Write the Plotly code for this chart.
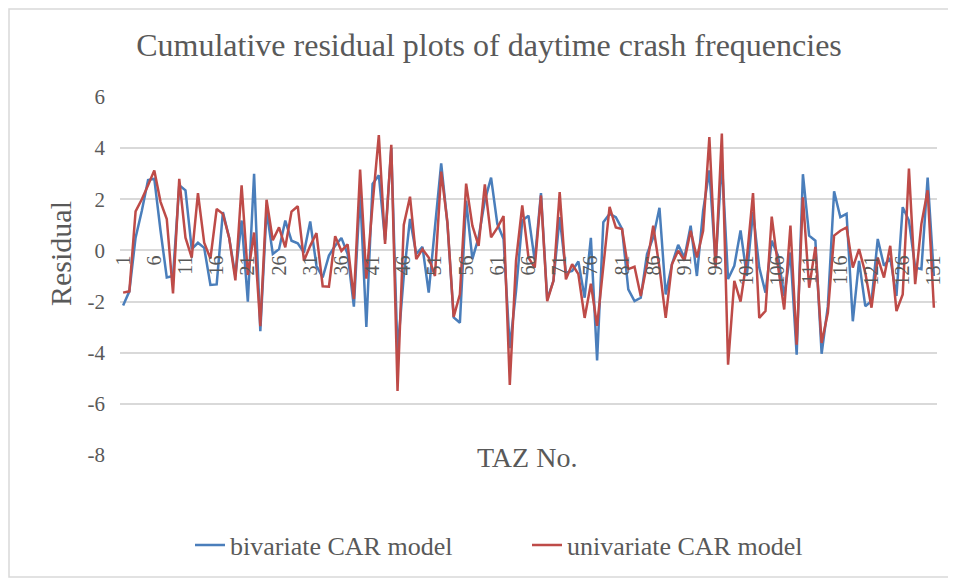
import plotly.graph_objects as go

taz = list(range(1, 132))
tick_vals = list(range(1, 132, 5))
tick_text = [str(v) for v in tick_vals]
y_tick_vals = [-8, -6, -4, -2, 0, 2, 4, 6]
y_tick_text = ["-8", "-6", "-4", "-2", "0", "2", "4", "6"]

bivariate = [
    -2.15, -1.6, 0.5, 1.55, 2.75, 2.8, 0.77, -1.06, -1.0, 2.55,
    2.35, 0.05, 0.3, 0.1, -1.35, -1.33, 1.5, 0.5, -1.0, 1.17,
    -2.0, 3.0, -3.16, 1.56, -0.14, 0.05, 1.17, 0.38, 0.28, -0.08,
    1.13, -0.6, -1.06, -0.2, 0.18, 0.49, -0.14, -2.2, 2.28, -2.99,
    2.6, 2.94, 0.4, 4.0, -4.0, -1.0, 1.23, -0.14, 0.14, -1.65,
    0.9, 3.4, 1.05, -2.62, -2.83, 1.95, -0.34, 0.51, 1.95, 2.85,
    1.04, 0.45, -3.82, -1.59, 1.17, 1.36, -0.4, 2.24, -1.91, -1.19,
    1.3, -0.87, -0.8, -0.43, -1.85, 0.49, -4.3, 1.1, 1.43, 1.3,
    0.84, -1.52, -1.98, -1.85, -0.14, 0.51, 1.67, -1.72, -0.54, 0.22,
    -0.28, 0.97, -1.0, 1.56, 3.13, -0.54, 3.5, -1.12, -0.6, 0.78,
    -1.0, 1.5, -0.67, -1.65, 0.38, -0.2, -1.78, -0.08, -4.08, 2.98,
    0.58, 0.38, -4.04, -2.18, 2.31, 1.3, 1.43, -2.77, -0.41, -2.18,
    -1.98, 0.45, -0.6, -0.3, -1.78, 1.69, 1.17, -0.67, -0.73, 2.85,
    -1.0,
]

univariate = [
    -1.65, -1.6, 1.53, 2.0, 2.55, 3.13, 1.9, 1.23, -1.68, 2.8,
    0.5, -0.28, 2.24, 0.3, -0.32, 1.62, 1.43, 0.5, -1.17, 2.55,
    -0.96, 0.7, -2.96, 1.98, 0.4, 0.9, 0.12, 1.52, 1.73, -0.4,
    0.18, 0.68, -1.4, -1.42, 0.56, -0.02, 0.24, -1.9, 3.16, -1.1,
    1.8, 4.51, 0.25, 4.13, -5.5, 1.0, 2.1, -0.34, 0.05, -0.28,
    -1.0, 3.08, 1.1, -2.6, -1.72, 2.61, 0.97, 0.18, 2.58, 0.51,
    0.88, 1.34, -5.26, -0.4, 1.76, -0.28, -0.67, 2.15, -1.98, -1.19,
    2.28, -1.13, -0.54, -0.93, -2.64, -1.3, -2.95, -0.55, 1.7, 0.9,
    0.84, -0.73, -0.64, -1.78, -0.54, 0.97, -0.67, -2.64, -0.54, -0.01,
    -0.4, 0.77, -0.28, 0.77, 4.43, -0.67, 4.57, -4.47, -1.19, -2.0,
    -0.35, 2.24, -2.64, -2.37, 1.32, -0.6, -2.31, 0.97, -3.69, 2.08,
    -1.46, 0.14, -3.62, -2.44, 0.58, 0.77, 0.9, -0.67, 0.05, -0.87,
    -2.24, -0.28, -1.06, 0.18, -2.37, -1.72, 3.2, -1.32, 1.04, 2.35,
    -2.24,
]

FONT = "Liberation Serif"
GREY = "#595959"

# page body has an 8px margin, so figure is sized / placed accordingly
W, H = 948, 573
L, R, T, B = 112, 19, 89, 126
PW, PH = W - L - R, H - T - B


def px(x):
    return (x - L) / PW


def py(y):
    return (H - B - y) / PH


fig = go.Figure()
fig.add_trace(go.Scatter(x=taz, y=bivariate, mode="lines", name="bivariate CAR model",
                         line=dict(color="#4a7ebb", width=2.5)))
fig.add_trace(go.Scatter(x=taz, y=univariate, mode="lines", name="univariate CAR model",
                         line=dict(color="#be4b48", width=2.5)))

fig.update_layout(
    width=W, height=H,
    margin=dict(l=L, r=R, t=T, b=B),
    paper_bgcolor="white", plot_bgcolor="white",
    font=dict(family=FONT, color=GREY, size=20),
    title=dict(text="Cumulative residual plots of daytime crash frequencies",
               x=481 / W, xanchor="center", y=1 - 37 / H, yanchor="middle",
               font=dict(family=FONT, size=32, color=GREY)),
    showlegend=True,
    legend=dict(orientation="h", x=px(182), xanchor="left", y=py(537), yanchor="middle",
                font=dict(family=FONT, size=26, color=GREY),
                entrywidth=292, traceorder="normal", bgcolor="rgba(0,0,0,0)"),
    xaxis=dict(range=[0.5, 131.5], tickmode="array", tickvals=tick_vals, ticktext=tick_text,
               tickangle=-90, showgrid=False, zeroline=False, showline=False, ticks="",
               anchor="free", position=8 / 14, tickfont=dict(family=FONT, size=20, color=GREY)),
    yaxis=dict(range=[-8, 6], tickmode="array", tickvals=y_tick_vals, ticktext=y_tick_text,
               showgrid=True, gridcolor="#d9d9d9", gridwidth=1.5,
               zeroline=False, showline=False, ticks="", ticklabelstandoff=14,
               tickfont=dict(family=FONT, size=21, color=GREY)),
)

fig.add_annotation(text="TAZ No.", xref="paper", yref="paper", x=px(519), y=py(467),
                   showarrow=False, font=dict(family=FONT, size=28, color=GREY))
fig.add_annotation(text="Residual", xref="paper", yref="paper", x=px(52), y=py(246),
                   xanchor="center", yanchor="middle",
                   textangle=-90, showarrow=False, font=dict(family=FONT, size=30, color=GREY))

fig.add_shape(type="rect", xref="paper", yref="paper",
              x0=px(1), x1=px(942), y0=py(569), y1=py(1),
              line=dict(color="#d9d9d9", width=1.5), fillcolor="rgba(0,0,0,0)", layer="below")

fig.write_html("out.html")
